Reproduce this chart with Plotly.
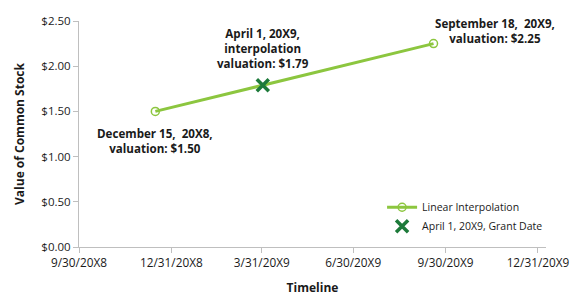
import plotly.graph_objects as go

# Data
val_dates = ["2018-12-15", "2019-09-18"]
val_values = [1.50, 2.25]
grant_date = ["2019-04-01"]
grant_value = [1.79]
tick_dates = ["2018-09-30", "2018-12-31", "2019-03-31", "2019-06-30", "2019-09-30", "2019-12-31"]
tick_labels = ["9/30/20X8", "12/31/20X8", "3/31/20X9", "6/30/20X9", "9/30/20X9", "12/31/20X9"]
y_ticks = [0, 0.5, 1.0, 1.5, 2.0, 2.5]

LINE_GREEN = "#8cc63f"
DARK_GREEN = "#1d7a3a"
FONT = "Open Sans"

fig = go.Figure()
fig.add_trace(go.Scatter(
    x=val_dates, y=val_values, mode="lines+markers", name="Linear Interpolation",
    line=dict(color=LINE_GREEN, width=3),
    marker=dict(symbol="circle-open", size=8, color=LINE_GREEN, line=dict(width=1.5, color=LINE_GREEN)),
))
fig.add_trace(go.Scatter(
    x=grant_date, y=grant_value, mode="markers", name="April 1, 20X9, Grant Date",
    marker=dict(symbol="x-thin", size=12, color=DARK_GREEN, line=dict(width=3.5, color=DARK_GREEN)),
))

ann_font = dict(family=FONT, size=11.6, color="#1a1a1a")
fig.add_annotation(x=val_dates[0], y=val_values[0], text="<b>December 15,  20X8,<br>valuation: $1.50</b>",
                   showarrow=False, yanchor="top", yshift=-13, font=ann_font, align="center")
fig.add_annotation(x=grant_date[0], y=grant_value[0], text="<b>April 1, 20X9,<br>interpolation<br>valuation: $1.79</b>",
                   showarrow=False, yanchor="bottom", yshift=12, font=ann_font, align="center")
fig.add_annotation(x=val_dates[1], y=val_values[1], text="<b>September 18,  20X9,<br>valuation: $2.25</b>",
                   showarrow=False, yanchor="middle", xshift=61, yshift=13, font=ann_font, align="center")

axis_col = "#bfbfbf"
fig.update_layout(
    width=586, height=302,
    margin=dict(l=79, r=40, t=21, b=55, autoexpand=False),
    paper_bgcolor="white", plot_bgcolor="white",
    font=dict(family=FONT, size=11, color="#1a1a1a"),
    showlegend=True,
    legend=dict(x=0.649, y=0.24, xanchor="left", yanchor="top", bgcolor="rgba(0,0,0,0)",
                font=dict(family=FONT, size=10.5, color="#1a1a1a"), tracegroupgap=2),
    xaxis=dict(
        type="date", range=["2018-09-30", "2020-01-08"], automargin=False,
        tickvals=tick_dates, ticktext=tick_labels,
        showgrid=False, zeroline=False, showline=True, linecolor=axis_col, linewidth=1,
        ticks="outside", ticklen=5, tickcolor=axis_col,
        title=dict(text="<b>Timeline</b>", font=dict(family=FONT, size=12), standoff=14),
        tickfont=dict(family=FONT, size=11.8),
    ),
    yaxis=dict(
        range=[0, 2.5], tickvals=y_ticks, tickformat="$.2f", automargin=False,
        showgrid=False, zeroline=False, showline=True, linecolor=axis_col, linewidth=1,
        ticks="outside", ticklen=5, tickcolor=axis_col,
        title=dict(text="<b>Value of Common Stock</b>", font=dict(family=FONT, size=12), standoff=14),
        tickfont=dict(family=FONT, size=11.5),
    ),
)

fig.write_html("out.html")
